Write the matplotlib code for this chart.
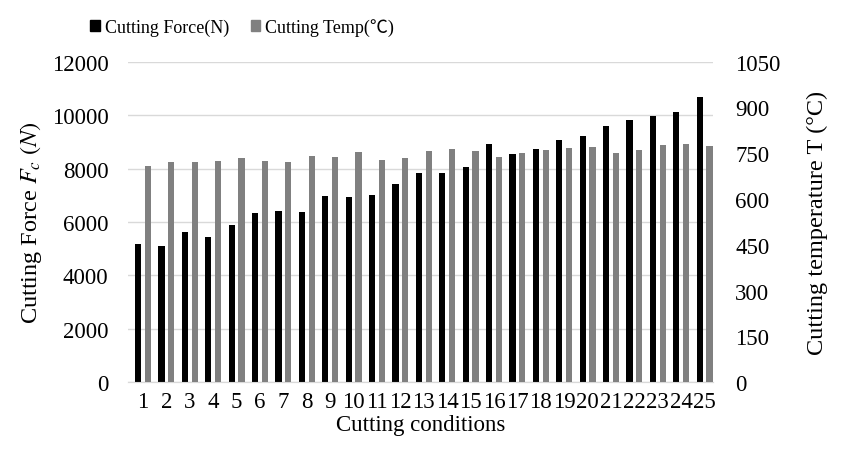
import numpy as np
import matplotlib
matplotlib.use('Agg')
import matplotlib.pyplot as plt
from matplotlib.patches import Patch

plt.rcParams['font.family'] = ['Liberation Serif', 'Noto Sans CJK SC', 'DejaVu Sans']
plt.rcParams['mathtext.fontset'] = 'stix'

conditions = list(range(1, 26))
cutting_force = [5180, 5105, 5630, 5440, 5890, 6340, 6420, 6380, 6980, 6940,
                 7015, 7430, 7840, 7840, 8065, 8925, 8550, 8740, 9075, 9225,
                 9600, 9825, 9975, 10100, 10685]
cutting_temp = [708, 721, 721, 725, 734, 725, 721, 741, 738, 754,
                728, 734, 757, 764, 757, 738, 751, 761, 767, 770,
                751, 761, 777, 780, 774]
force_ticks = [0, 2000, 4000, 6000, 8000, 10000, 12000]
temp_ticks = [0, 150, 300, 450, 600, 750, 900, 1050]

fs = 16.5
x = np.array(conditions)
w = 0.26
off = 0.21

fig = plt.figure(figsize=(8.44, 4.64), dpi=100)
ax = fig.add_axes([0.1517, 0.174, 0.6931, 0.691])
ax2 = ax.twinx()

ax.bar(x - off, cutting_force, width=w, color='black', zorder=3)
ax2.bar(x + off, cutting_temp, width=w, color='#808080', zorder=3)

ax.set_xlim(0.36, 25.36)
ax.set_ylim(0, 12000)
ax2.set_ylim(0, 1050)
ax.set_yticks(force_ticks)
ax2.set_yticks(temp_ticks)
ax.set_xticks(x)
ax.set_xticklabels([str(c) for c in conditions])

ax.set_axisbelow(True)
ax.grid(axis='y', color='#d9d9d9', linewidth=1.0)
for a in (ax, ax2):
    for s in ['top', 'left', 'right']:
        a.spines[s].set_visible(False)
    a.spines['bottom'].set_color('#d9d9d9')
    a.tick_params(length=0, labelsize=fs)
ax.tick_params(axis='y', pad=14)
ax2.tick_params(axis='y', pad=16)
ax.tick_params(axis='x', pad=6)

ax.set_xlabel('Cutting conditions', fontsize=fs, labelpad=2)
ax.set_ylabel(r'Cutting Force $F_c$ $(N)$', fontsize=fs + 1, labelpad=6)
ax2.set_ylabel('Cutting temperature T (°C)', fontsize=fs + 1, labelpad=19)

handles = [Patch(color='black'), Patch(color='#808080')]
fig.legend(handles, ['Cutting Force(N)', 'Cutting Temp(℃)'], loc='center',
           bbox_to_anchor=(242 / 844, 1 - 28 / 464), ncol=2, frameon=False,
           fontsize=13, handlelength=0.55, handleheight=0.55, handletextpad=0.25,
           columnspacing=1.2)

fig.savefig('out.png', dpi=100)
